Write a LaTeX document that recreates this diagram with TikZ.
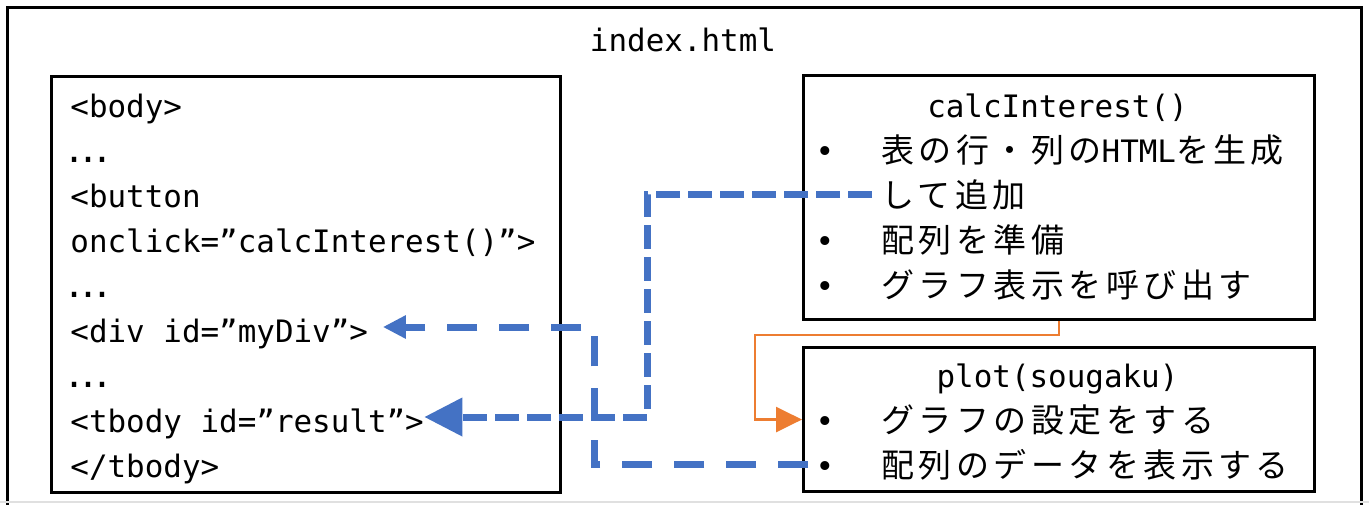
\documentclass[tikz,border=0pt]{standalone}
\usepackage{fontspec}
\setmainfont{DejaVu Sans Mono}
\newfontfamily\jpfont[LetterSpace=13.5]{Noto Sans CJK JP}
\newfontfamily\dotsfont{DejaVu Sans}
\usetikzlibrary{arrows.meta,calc}
\definecolor{flowblue}{HTML}{4472C4}
\definecolor{floworange}{HTML}{ED7D31}
\newcommand{\jp}[1]{{\jpfont\fontsize{16.5pt}{18pt}\selectfont #1}}
\begin{document}
\begin{tikzpicture}[
  x=0.5pt, y=-0.5pt,
  font=\fontsize{15.45pt}{18pt}\selectfont,
  every node/.style={inner sep=0pt},
  frame/.style={draw, line width=1.5pt, anchor=north west},
  codeline/.style={anchor=base west},
  ellipsisline/.style={anchor=base west, font=\dotsfont\fontsize{21pt}{20pt}\selectfont},
  bul/.style={anchor=base},
  heading/.style={anchor=base},
  dataflow/.style={draw=flowblue, line width=3.5pt},
  callflow/.style={draw=floworange, line width=1.3pt},
]
\useasboundingbox (0,0) rectangle (1369,504);

% outer file frame and its name
\node[frame, minimum width=677pt, minimum height=257pt] (page) at (6,6) {};
\draw[black!12, line width=0.8pt] (0,502) -- (1369,502);
\node[heading] (fname) at (683,51) {index.html};

% HTML source
\node[frame, minimum width=254.5pt, minimum height=208pt] (htmlbox) at (50,75) {};
\node[codeline] (l1) at (70,117) {<body>};
\node[ellipsisline] (l2) at (67,162) {…};
\node[codeline] (l3) at (70,207) {<button};
\node[codeline] (l4) at (70,252) {onclick=”calcInterest()”>};
\node[ellipsisline] (l5) at (67,297) {…};
\node[codeline] (l6) at (70,342) {<div id=”myDiv”>};
\node[ellipsisline] (l7) at (67,387) {…};
\node[codeline] (l8) at (70,432) {<tbody id=”result”>};
\node[codeline] (l9) at (70,477) {</tbody>};

% calcInterest()
\node[frame, minimum width=255.5pt, minimum height=122pt] (calcbox) at (802,74) {};
\node[heading] (calcname) at (1057.5,117) {calcInterest()};
\node[bul] (cb1) at (825,162) {•};
\node[codeline] (ct1) at (881,162) {\jp{表の行・列の}HTML\jp{を生成}};
\node[codeline] (ct2) at (881,207) {\jp{して追加}};
\node[bul] (cb3) at (825,252) {•};
\node[codeline] (ct3) at (881,252) {\jp{配列を準備}};
\node[bul] (cb4) at (825,297) {•};
\node[codeline] (ct4) at (881,297) {\jp{グラフ表示を呼び出す}};

% plot(sougaku)
\node[frame, minimum width=255.5pt, minimum height=72pt] (plotbox) at (802,346) {};
\node[heading] (plotname) at (1057.5,387) {plot(sougaku)};
\node[bul] (pb1) at (825,432) {•};
\node[codeline] (pt1) at (881,432) {\jp{グラフの設定をする}};
\node[bul] (pb2) at (825,477) {•};
\node[codeline] (pt2) at (881,477) {\jp{配列のデータを表示する}};

% connectors
\coordinate (callin) at (plotbox.west |- pt1.west);
\coordinate (datastart) at (plotbox.west |- pt2.west);

\draw[callflow, -{Triangle[length=13pt,width=12.5pt]}]
  (calcbox.south) -- ++(0,14) -| ([xshift=-23.5pt]callin) -- (callin);

\draw[dataflow, dash pattern=on 12pt off 4pt, -{Triangle[length=19pt,width=18.5pt]}]
  ([xshift=-4.5pt]ct2.west) -| (647,417) -- ([yshift=7.5pt]l8.base east);

\draw[dataflow, dash pattern=on 15pt off 11pt, -{Triangle[length=11.5pt,width=11pt]}]
  ([xshift=3pt]datastart) -| (594,327) -- ([xshift=7.2pt,yshift=7.5pt]l6.base east);
\end{tikzpicture}
\end{document}
